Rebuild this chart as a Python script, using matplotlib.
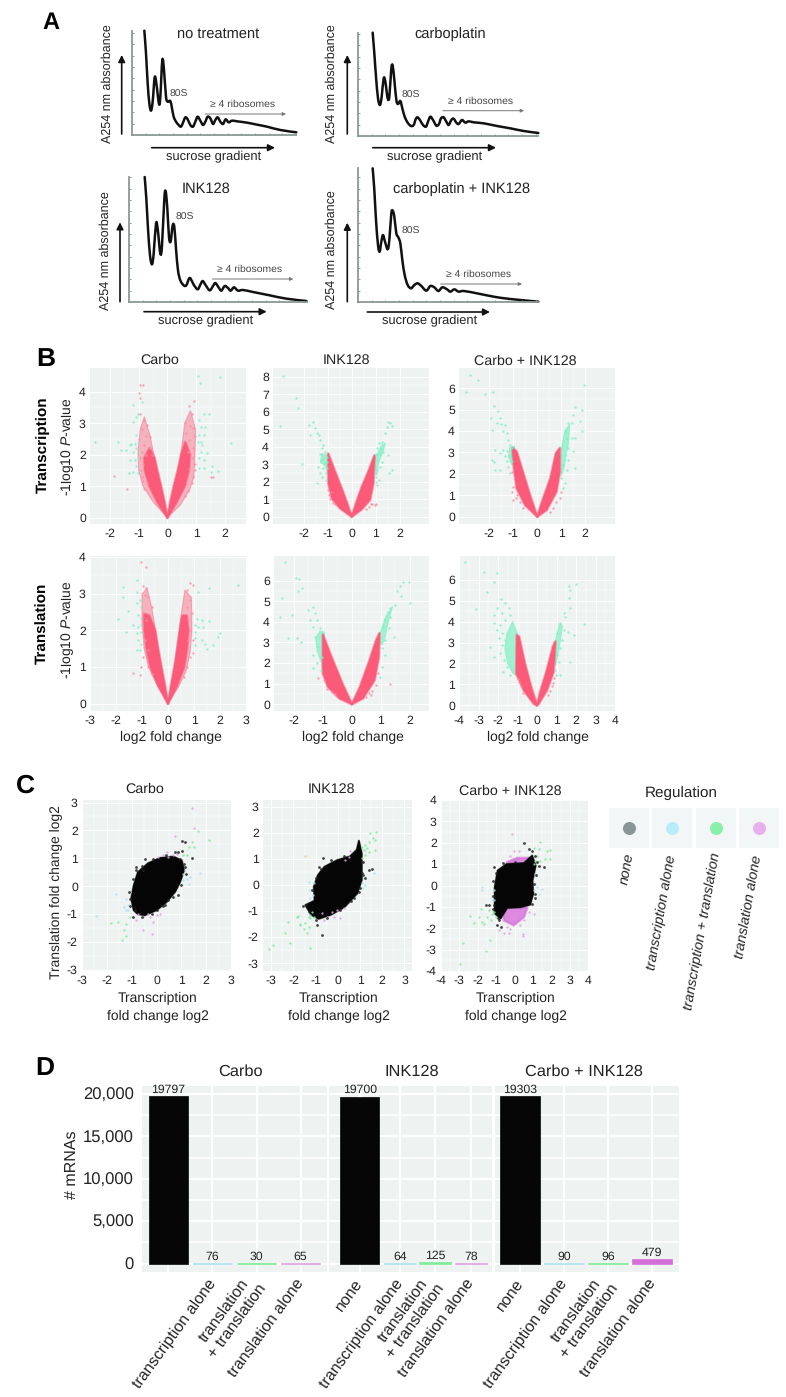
import matplotlib
matplotlib.use("Agg")
import matplotlib.pyplot as plt
from matplotlib.path import Path
from matplotlib.patches import PathPatch
from matplotlib.transforms import ScaledTranslation

plt.rcParams["font.family"] = ["Liberation Sans", "DejaVu Sans"]
plt.rcParams["axes.unicode_minus"] = False
plt.rcParams["text.hinting"] = "none"
plt.rcParams["mathtext.fontset"] = "custom"
plt.rcParams["mathtext.rm"] = "Liberation Sans"
plt.rcParams["mathtext.it"] = "Liberation Sans:italic"

W, H = 786, 1397
PANEL_BG = "#eef3f2"
RED = "#fb5a78"
MINT = "#7ff0c4"
BLUE = "#a8e4f2"
GREEN = "#7eec98"
PURPLE = "#e2a0e6"
TXT = "#222222"

# panel A traces: position along gradient, absorbance (both in trace units)
no_treat_x = [37, 42, 47, 52, 57, 62, 68, 73, 81, 85, 91, 96, 102, 107, 115, 120, 125, 132, 140, 147, 153, 160, 167, 175, 183, 190, 197, 205, 213, 220, 227, 235, 243, 250, 257, 265, 273, 281, 290, 300, 315, 345, 375, 405, 445, 493]
no_treat_y = [313, 245, 155, 95, 73, 100, 173, 155, 93, 115, 225, 195, 115, 100, 102, 80, 55, 40, 30, 25, 37, 53, 47, 30, 25, 40, 55, 43, 30, 40, 55, 50, 33, 45, 53, 40, 33, 47, 38, 43, 41, 37, 31, 25, 15, 8]
carbo_x = [44, 49, 54, 60, 66, 71, 77, 82, 89, 94, 100, 104, 109, 115, 120, 127, 133, 140, 149, 159, 167, 173, 179, 187, 195, 204, 210, 217, 225, 235, 243, 249, 257, 265, 272, 280, 287, 295, 302, 312, 322, 332, 347, 377, 417, 457, 497, 541]
carbo_y = [310, 248, 178, 113, 93, 118, 173, 163, 113, 118, 203, 211, 168, 108, 96, 105, 83, 58, 40, 30, 33, 50, 56, 46, 33, 28, 43, 58, 48, 31, 36, 53, 56, 43, 33, 48, 52, 40, 36, 48, 40, 44, 41, 38, 30, 23, 15, 9]
ink_x = [47, 52, 57, 63, 69, 74, 81, 86, 94, 99, 106, 110, 115, 120, 125, 131, 136, 141, 147, 154, 164, 172, 180, 185, 194, 206, 214, 221, 229, 242, 252, 259, 268, 277, 287, 297, 305, 315, 327, 342, 372, 422, 472, 532]
ink_y = [375, 310, 220, 140, 113, 145, 235, 220, 145, 170, 310, 332, 280, 195, 182, 230, 225, 160, 95, 65, 50, 50, 70, 70, 52, 38, 52, 63, 52, 35, 48, 57, 45, 34, 48, 42, 34, 44, 34, 36, 30, 20, 10, 3]
combo_x = [44, 49, 54, 60, 65, 70, 75, 81, 89, 94, 100, 104, 109, 115, 121, 127, 133, 140, 149, 159, 169, 179, 190, 205, 217, 229, 241, 253, 267, 277, 289, 302, 317, 357, 407, 457, 541]
combo_y = [401, 336, 246, 171, 151, 181, 201, 181, 158, 186, 266, 274, 256, 206, 194, 176, 126, 81, 51, 41, 51, 56, 48, 34, 48, 44, 33, 44, 38, 31, 38, 31, 33, 26, 16, 9, 1]

# panel B volcanoes, transcription row
tx_carbo_core_l = [(0, 0), (-0.35, 0.5), (-0.62, 1.0), (-0.78, 1.5), (-0.8, 1.9), (-0.62, 2.2), (-0.45, 1.9), (-0.35, 1.5), (-0.22, 1.0), (-0.1, 0.5)]
tx_carbo_core_r = [(0, 0), (0.32, 0.5), (0.6, 1.0), (0.74, 1.5), (0.78, 2.0), (0.62, 2.4), (0.48, 2.0), (0.36, 1.5), (0.22, 1.0), (0.1, 0.5)]
tx_carbo_halo_l = [(0, 0), (-0.5, 0.5), (-0.85, 1.0), (-1.0, 1.5), (-1.02, 2.1), (-0.95, 2.8), (-0.8, 3.2), (-0.6, 2.6), (-0.45, 1.9), (-0.3, 1.2), (-0.15, 0.6)]
tx_carbo_halo_r = [(0, 0), (0.45, 0.4), (0.78, 0.9), (0.92, 1.3), (0.96, 2), (0.98, 2.8), (0.8, 3.4), (0.6, 3.0), (0.48, 2.1), (0.36, 1.3), (0.18, 0.6)]
tx_carbo_mint = [(-2.5, 2.4), (-1.72, 2.4), (-1.6, 2.15), (-1.43, 2.15), (-1.3, 2.3), (-1.25, 2.35), (-1.13, 2.35), (-1.02, 2.4), (-1.08, 2.2), (-1.2, 2.1), (-0.96, 2.1), (-1.02, 1.9), (-1.13, 1.83), (-1.1, 1.65), (-0.96, 1.5), (-1.2, 1.46), (-1.33, 1.41), (-1.02, 1.41), (-1.3, 1.83), (-1.08, 2.62), (-1.2, 3.05), (-1.1, 3.2), (-1.2, 3.58), (-1.02, 3.3), (-0.9, 3.66),
                  (1.07, 4.5), (1.13, 4.26), (1.83, 4.45), (2.2, 2.36), (1.27, 3.3), (1.44, 3.28), (1.1, 3.1), (1.15, 2.89), (1.1, 2.62), (1.27, 2.62), (1.07, 2.41), (1.2, 2.3), (1.37, 2.05), (1.15, 2.1), (1.1, 1.9), (1.27, 1.84), (1.1, 1.57), (1.27, 1.57), (1.5, 1.46), (1.56, 1.65), (1.77, 1.49), (1.15, 2.41), (1.32, 2.89)]
tx_carbo_pink = [(-0.85, 4.2), (-0.95, 4.2), (-1.0, 3.95), (-0.95, 3.8), (-0.95, 3.3), (-0.8, 3.1), (-0.7, 2.95), (-0.9, 2.8), (-0.75, 2.6), (-0.6, 2.55), (-1.0, 2.5), (-0.8, 2.3), (-0.6, 2.2), (-0.9, 2.1), (-0.75, 2.0), (-0.55, 2.0), (-0.95, 1.9), (-0.85, 1.7), (-0.92, 1.5), (-0.88, 1.3), (-0.85, 1.15), (-0.7, 1.1), (-1.4, 0.92), (-1.85, 1.32), (-0.8, 0.9),
                  (0.92, 3.7), (0.75, 3.55), (0.85, 3.3), (0.6, 3.0), (0.8, 2.9), (0.9, 2.85), (0.65, 2.7), (0.95, 2.6), (0.75, 2.45), (0.55, 2.4), (0.9, 2.2), (0.7, 2.1), (0.85, 1.9), (0.95, 1.7), (0.75, 1.55), (0.9, 1.3), (0.85, 1.1), (0.7, 0.85), (0.95, 1.5), (0.6, 0.7), (1.5, 1.3), (1.58, 1.28)]

tx_ink_core_l = [(0, 0), (-0.49, 0.48), (-0.83, 1.05), (-0.97, 1.9), (-0.98, 3.6), (-0.7, 2.6), (-0.42, 1.62), (-0.2, 0.8)]
tx_ink_core_r = [(0, 0), (0.4, 0.4), (0.76, 0.95), (0.9, 1.9), (0.95, 3.5), (0.7, 2.6), (0.42, 1.7), (0.2, 0.85)]
tx_ink_dense = [[(-1.0, 3.5), (-1.25, 3.6), (-1.3, 3.1), (-1.1, 2.9), (-1.0, 2.5)], [(1.0, 3.4), (1.25, 4.1), (1.4, 4.2), (1.3, 3.7), (1.12, 3.1), (1.05, 2.4), (1.0, 2.4)]]
tx_ink_mint = [(-2.85, 8.05), (-2.32, 6.8), (-2.22, 6.2), (-3.0, 5.2), (-2.08, 3.0), (-1.62, 5.4), (-1.8, 5.24), (-1.53, 5.05), (-1.74, 4.67), (-1.46, 4.76), (-1.35, 4.67), (-1.32, 4.38), (-1.18, 4.1), (-1.25, 3.9), (-1.11, 3.7), (-1.32, 3.6), (-1.04, 3.43), (-1.25, 3.24), (-1.11, 3.05), (-1.39, 2.86), (-1.18, 2.76), (-1.07, 2.48), (-1.32, 2.48), (-1.25, 2.29), (-1.43, 1.9), (-1.07, 2.1), (-1.05, 2.76), (-1.18, 3.33), (-1.01, 3.14),
               (1.53, 5.4), (1.6, 5.33), (1.67, 5.18), (1.49, 5.14), (1.39, 4.76), (1.25, 4.25), (1.15, 4.19), (1.07, 3.9), (1.21, 3.9), (1.32, 3.7), (1.01, 3.6), (1.18, 3.6), (1.53, 3.52), (1.07, 3.24), (1.25, 3.14), (1.07, 2.67), (1.67, 2.67), (1.18, 2.86), (1.57, 2.48), (1.01, 2.29), (1.15, 2.1), (1.07, 1.81), (1.0, 2.0), (1.07, 3.5)]
tx_ink_pink = [(-0.95, 1.25), (-0.9, 1.0), (-0.8, 0.8), (-0.7, 0.7), (-0.85, 1.4), (-1.0, 1.5), (0.85, 0.7), (0.95, 0.65), (0.6, 0.45), (0.72, 0.55), (1.0, 0.7), (0.8, 0.75)]

tx_combo_core_l = [(0, 0), (-0.51, 0.55), (-0.86, 1.33), (-0.97, 2.27), (-1.03, 3.2), (-0.86, 3.05), (-0.6, 2.1), (-0.3, 1.0)]
tx_combo_core_r = [(0, 0), (0.39, 0.31), (0.8, 1.17), (0.94, 2.1), (0.94, 3.2), (0.78, 2.97), (0.55, 1.8), (0.2, 0.7)]
tx_combo_dense = [[(1.0, 3.1), (1.15, 4.0), (1.35, 4.3), (1.3, 3.4), (1.2, 2.9), (1.12, 2.3), (1.0, 1.9)], [(-0.95, 3.3), (-1.15, 3.2), (-1.2, 2.8), (-1.05, 2.4), (-0.95, 2.7)]]
tx_combo_mint = [(-2.8, 6.6), (-2.46, 6.36), (-2.97, 5.83), (-2.18, 5.73), (-1.83, 5.83), (-1.8, 5.16), (-1.62, 4.92), (-1.93, 4.6), (-1.56, 4.6), (-1.69, 4.38), (-1.49, 4.34), (-1.35, 4.3), (-1.9, 4.06), (-1.42, 3.98), (-1.28, 3.9), (-1.2, 3.6), (-1.14, 3.36), (-1.76, 3.13), (-1.42, 3.13), (-1.28, 3.05), (-1.07, 3.2), (-1.56, 2.97), (-1.35, 2.81), (-1.14, 2.81), (-1.9, 2.66), (-1.28, 2.58), (-1.79, 2.55), (-1.07, 2.58), (-1.76, 2.19), (-1.56, 2.19), (-1.2, 2.34), (-1.14, 2.03),
                 (1.94, 6.14), (1.57, 5.11), (1.85, 4.97), (1.5, 4.77), (1.78, 4.48), (1.43, 4.38), (1.29, 4.38), (1.88, 3.98), (1.15, 3.98), (1.22, 3.67), (1.43, 3.67), (1.57, 3.67), (1.29, 3.2), (1.5, 3.05), (1.15, 2.89), (1.29, 2.66), (1.08, 2.42), (1.22, 2.19), (1.01, 1.8), (1.15, 1.56), (1.08, 1.33), (1.57, 2.27)]
tx_combo_pink = [(-1.0, 0.78), (-0.86, 1.0), (-0.72, 0.7), (-0.58, 0.39), (-1.07, 1.17), (0.94, 0.86), (0.8, 0.7), (0.67, 0.39), (0.53, 0.23), (1.01, 1.17), (-1.07, 2.1), (-1.0, 1.4), (-0.9, 0.85)]

# panel B volcanoes, translation row
tl_carbo_core_l = [(0, 0), (-0.38, 0.5), (-0.67, 1.0), (-0.82, 1.5), (-0.9, 2.0), (-0.92, 2.45), (-0.72, 2.4), (-0.5, 2.0), (-0.38, 1.5), (-0.25, 1.0), (-0.12, 0.5)]
tl_carbo_core_r = [(0, 0), (0.35, 0.5), (0.62, 1.0), (0.73, 1.5), (0.78, 2.0), (0.72, 2.4), (0.55, 2.4), (0.46, 2.0), (0.36, 1.5), (0.25, 1.0), (0.12, 0.5)]
tl_carbo_halo_l = [(0, 0), (-0.42, 0.5), (-0.75, 1.0), (-0.92, 1.5), (-1.0, 2.2), (-1.0, 3.0), (-0.8, 3.15), (-0.62, 2.6), (-0.45, 1.9), (-0.3, 1.1), (-0.12, 0.5)]
tl_carbo_halo_r = [(0, 0), (0.4, 0.45), (0.7, 0.9), (0.85, 1.4), (0.92, 2), (0.9, 2.9), (0.65, 3.1), (0.52, 2.5), (0.4, 1.9), (0.28, 1.2), (0.12, 0.5)]
tl_carbo_mint = [(-1.72, 3.18), (-1.74, 2.9), (-1.21, 3.38), (-1.21, 3.06), (-1.08, 2.83), (-1.21, 2.74), (-1.02, 2.65), (-1.53, 2.54), (-1.14, 2.42), (-1.02, 2.33), (-1.92, 2.3), (-1.34, 2.15), (-1.14, 2.08), (-1.02, 2.15), (-1.6, 1.96), (-1.21, 1.92), (-1.02, 1.96), (-1.14, 1.74), (-1.21, 1.46), (-1.02, 1.64), (-1.08, 1.46),
                 (1.56, 3.15), (2.71, 3.24), (1.17, 3.06), (1.1, 2.3), (1.3, 2.28), (1.56, 2.26), (1.04, 2.15), (1.17, 2.1), (1.36, 2.08), (1.04, 1.96), (2.0, 1.92), (1.94, 1.83), (1.04, 1.78), (1.3, 1.74), (1.04, 1.6), (1.5, 1.5), (1.72, 1.6), (1.44, 1.64)]
tl_carbo_pink = [(-1.05, 3.86), (-0.85, 3.74), (-0.95, 3.2), (-0.83, 3.15), (-1.34, 0.84), (-1.08, 0.78), (0.83, 3.3), (0.98, 3.24), (0.72, 3.1), (-0.9, 2.97), (-0.77, 2.92), (-0.63, 2.65), (-0.95, 2.47), (-0.83, 2.28), (-0.9, 1.74), (-0.95, 1.28), (-1.02, 1.0), (-0.77, 1.46), (-0.77, 1.0), (-0.63, 0.82), (0.85, 2.83), (0.72, 2.65), (0.92, 2.47), (0.98, 1.74), (0.85, 1.28), (0.72, 1.0), (0.6, 0.73), (0.78, 1.74), (0.98, 1.37), (0.85, 2.0), (0.78, 2.28)]

tl_ink_core_l = [(0, 0), (-0.43, 0.28), (-0.83, 0.85), (-1.0, 1.5), (-1.0, 3.37), (-0.71, 2.31), (-0.33, 1.0)]
tl_ink_core_r = [(0, 0), (0.38, 0.28), (0.78, 1.17), (0.93, 2.3), (0.95, 3.45), (0.84, 3.12), (0.57, 1.98), (0.28, 0.85)]
tl_ink_dense = [[(-0.95, 3.5), (-1.1, 3.55), (-1.25, 3.2), (-1.2, 2.6), (-1.05, 2.0), (-1.0, 1.6), (-0.95, 2.2)], [(0.95, 3.35), (1.15, 4.2), (1.4, 4.75), (1.25, 4.0), (1.15, 3.3), (1.05, 2.9), (1.0, 2.9)]]
tl_ink_mint = [(-2.31, 6.89), (-2.42, 5.15), (-1.94, 6.13), (-1.82, 6.08), (-1.87, 5.48), (-1.73, 5.64), (-2.48, 4.26), (-2.08, 4.34), (-2.2, 3.2), (-1.91, 3.2), (-1.77, 3.04), (-1.51, 4.58), (-1.36, 4.74), (-1.28, 4.42), (-1.45, 4.1), (-1.22, 4.1), (-1.33, 3.77), (-1.1, 3.69), (-1.28, 3.28), (-1.17, 2.8), (-1.34, 2.39), (-1.22, 1.99), (-1.34, 1.74), (-1.08, 1.66), (-1.05, 2.3),
               (1.76, 5.93), (1.97, 5.93), (1.67, 5.72), (1.55, 5.48), (1.7, 5.24), (2.01, 4.91), (1.47, 4.83), (1.3, 4.67), (1.24, 4.5), (1.13, 4.1), (1.3, 4.26), (1.07, 3.77), (1.28, 3.69), (1.44, 3.28), (1.13, 3.12), (1.05, 2.72), (1.13, 2.39), (1.05, 1.82), (0.98, 1.33)]
tl_ink_pink = [(-1.16, 1.25), (1.3, 0.98), (0.67, 0.47), (-0.95, 1.2), (-0.85, 0.75), (-0.7, 0.6), (-0.6, 0.5), (0.82, 0.95), (0.9, 1.5), (0.7, 0.65), (0.6, 0.55), (0.5, 0.35)]

tl_combo_core_l = [(0, 0), (-0.17, 0.08), (-0.68, 0.72), (-1.06, 1.52), (-1.03, 3.36), (-0.92, 3.28), (-0.62, 2.0), (-0.3, 0.88)]
tl_combo_core_r = [(0, 0), (0.09, 0.08), (0.51, 0.72), (0.85, 1.6), (0.94, 3.04), (0.82, 2.8), (0.48, 1.6), (0.14, 0.56)]
tl_combo_dense = [[(-1.0, 3.4), (-1.25, 4.0), (-1.55, 3.4), (-1.65, 2.7), (-1.5, 2.0), (-1.25, 1.55), (-1.0, 1.4)], [(0.95, 3.1), (1.15, 3.9), (1.3, 3.8), (1.2, 3.1), (1.05, 2.3), (0.95, 1.9)]]
tl_combo_mint = [(-3.71, 6.83), (-2.7, 6.37), (-2.05, 6.32), (-2.19, 5.87), (-2.56, 5.41), (-3.11, 4.59), (-1.85, 5.07), (-1.62, 4.91), (-2.05, 4.64), (-1.45, 4.64), (-1.8, 4.4), (-2.2, 4.32), (-1.37, 4.32), (-1.62, 4.08), (-2.22, 3.92), (-1.88, 3.84), (-2.05, 3.6), (-1.8, 3.44), (-1.97, 3.2), (-2.39, 2.8), (-1.8, 2.88), (-2.22, 2.32), (-1.88, 2.48), (-1.71, 2.16), (-1.74, 1.6), (-1.54, 1.84), (-1.37, 1.44), (-1.62, 3.12),
                 (1.62, 5.68), (2.0, 5.8), (1.68, 5.52), (1.62, 5.12), (1.71, 4.64), (1.37, 4.4), (1.45, 4.24), (1.2, 3.92), (2.39, 3.89), (1.03, 3.44), (1.37, 3.6), (1.88, 3.36), (1.59, 3.52), (1.28, 3.12), (1.2, 2.72), (1.03, 2.4), (1.71, 2.08), (1.11, 2.08), (0.94, 1.68), (1.2, 1.44), (0.99, 1.44)]
tl_combo_pink = [(-0.9, 1.1), (-0.8, 0.9), (-0.7, 0.6), (-0.95, 1.25), (0.8, 1.05), (0.65, 0.7), (0.75, 0.9), (0.85, 1.3), (0.55, 0.5)]

# panel C scatter: outline of the solid black cloud and the loose points
sc_carbo_blob = [(-0.92, -0.87), (-1.02, -0.45), (-0.92, 0.02), (-0.75, 0.5), (-0.34, 0.82), (0.14, 1.01), (0.68, 1.06), (1.02, 0.92), (1.11, 0.56), (0.95, 0.14), (0.75, -0.21), (0.41, -0.57), (0, -0.87), (-0.47, -1.05), (-0.75, -1.01)]
sc_carbo_black = [(-0.81, 0.7), (-0.47, 0.98), (-0.84, 0.56), (1.02, 1.27), (0.88, 1.21), (1.02, 1.6), (1.15, 1.57), (1.42, 1.01), (1.15, 0.68), (0.88, -0.33), (-0.95, -1.11), (0.34, -0.69), (0.95, 0.98), (0.75, 1.21), (0.47, -0.51), (0, -0.87), (-0.54, 0.56), (-1.08, -0.45), (-0.88, -0.87),
                  (-0.95, 0.25), (-0.6, 0.72), (-0.15, 0.98), (0.4, 1.12), (1.1, 0.8), (1.18, 0.45), (1.0, 0.05), (0.65, -0.4), (0.25, -0.72), (-0.2, -1.0), (-0.6, -1.12), (-1.05, -0.7), (-1.1, -0.2)]
sc_carbo_blue = [(-2.44, -1.07), (-1.63, -0.27), (-1.22, -0.45), (-1.29, -0.75), (-1.15, -0.87), (-1.08, -0.21), (-1.15, -0.69), (-1.22, -0.87), (1.76, 0.46), (1.22, 0.26), (1.08, 0.44), (1.29, 0.08), (1.02, 0.08), (1.15, 0.56), (1.36, 0.32), (1.06, 0.2)]
sc_carbo_green = [(-1.83, -1.32), (-1.56, -1.29), (-1.22, -1.35), (-1.08, -1.11), (-1.29, -1.58), (-1.22, -1.79), (-1.38, -1.94), (2.13, 1.67), (1.69, 1.99), (1.42, 1.57), (1.29, 1.39), (1.49, 1.42), (1.08, 1.1), (1.22, 1.1)]
sc_carbo_purple = [(0.75, 1.81), (1.49, 2.07), (1.42, 2.8), (0.41, 1.21), (0.27, 1.1), (0.47, 1.06), (0.68, 1.1), (0.81, 1.15), (0.07, 1.04), (-0.81, -1.23), (-0.54, -1.11), (-0.27, -1.11), (0, -1.05), (-0.54, -1.58), (-0.2, -1.73), (-0.75, -0.99), (-0.34, -0.99), (0.14, -0.99), (-0.14, -1.29)]

sc_ink_blob = [(-1.46, -0.77), (-1.05, -0.6), (-1.08, -0.06), (-0.9, 0.38), (-0.6, 0.7), (-0.04, 0.95), (0.55, 1.1), (0.85, 1.35), (0.95, 1.7), (1.08, 1.2), (1.08, 0.7), (1.08, 0.19), (0.88, -0.32), (0.3, -0.85), (-0.3, -1.14), (-0.86, -1.3), (-1.2, -1.15)]
sc_ink_black = [(1.39, 0.57), (1.54, 0.6), (1.09, 0.45), (1.24, 0.26), (0.94, -0.26), (0.71, -0.51), (-0.67, 1.02), (-0.86, 0.7), (-0.94, -1.53), (-0.71, -1.92), (-1.42, -0.77),
                (-1.15, -0.2), (-1.0, 0.25), (-0.75, 0.62), (-0.3, 0.95), (0.3, 1.1), (1.15, 0.9), (1.15, 0.4), (1.0, -0.1), (0.6, -0.6), (0.1, -0.97), (-0.5, -1.25), (-1.0, -1.35), (-1.3, -1.0), (-1.55, -0.8)]
sc_ink_blue = [(-1.31, 0.13), (-1.24, -0.19), (-1.12, -0.38), (-1.09, 0.06), (1.16, 0.26), (1.09, -0.13), (1.24, 0), (1.61, 0.45), (1.09, 0.06), (-1.24, -0.51)]
sc_ink_green = [(-1.24, -1.15), (-1.16, -1.02), (-1.09, -1.21), (-1.24, -1.28), (-1.31, -1.21), (-1.84, -1.21), (-1.46, -1.47), (-1.69, -1.53), (-1.31, -1.6), (-1.54, -1.7), (-1.39, -1.85), (-1.24, -2.43), (-2.26, -1.41), (-2.36, -1.84), (-2.14, -2.21), (-3.12, -2.46), (-2.94, -2.32), (-1.81, -1.18), (-1.69, -1.5),
                (1.46, 2.0), (1.73, 2.02), (1.58, 1.79), (1.69, 1.72), (1.39, 1.66), (1.24, 1.53), (1.09, 1.47), (1.69, 1.34), (1.39, 1.28), (1.24, 1.15), (1.09, 1.02), (1.16, 1.34), (1.31, 1.4)]
sc_ink_purple = [(0.56, 1.3), (0.49, 1.09), (0.34, 0.96), (-0.71, -1.09), (-0.49, -1.21), (-0.26, -1.02), (-0.04, -0.96), (0.11, -1.28), (-0.64, -1.34), (-0.19, -1.21), (0.26, -0.89)]
sc_ink_orange = [(-1.46, 1.12)]

sc_combo_blob = [(-1.08, -0.85), (-1.08, -0.08), (-0.92, 0.7), (-0.45, 1.0), (0.51, 1.05), (0.96, 1.4), (1.15, 0.93), (0.98, 0.23), (1.02, -0.39), (0.85, -0.9), (0.32, -1.02), (-0.4, -1.05), (-0.76, -1.55), (-1.08, -1.3)]
sc_combo_down = [(-0.58, -1.01), (0.69, -1.04), (0.51, -1.48), (-0.04, -1.86), (-0.58, -1.63)]
sc_combo_up = [(-0.4, 0.93), (0.51, 1.0), (0.87, 1.29), (0.14, 1.29), (-0.4, 1.09)]
sc_combo_black = [(-1.57, -0.93), (-1.39, -0.9), (-1.12, -0.93), (-0.85, -1.63), (-0.94, -1.86), (-0.76, -1.94), (0.51, 1.97), (0.78, 1.71), (0.96, 1.63), (1.59, 0.85), (1.32, 0.93), (1.14, -0.39), (-1.12, 0.85),
                  (-1.18, -0.5), (-1.15, 0.2), (-1.0, 0.6), (-0.65, 1.05), (0, 1.1), (1.2, 1.1), (1.15, 0.5), (1.05, 0.05), (1.1, -0.6), (0.95, -0.85), (-1.15, -1.1), (-0.9, -1.5), (1.1, 1.4)]
sc_combo_green = [(-2.78, -2.67), (-2.98, -3.65), (-2.44, -1.44), (-2.2, -1.75), (-1.93, -1.48), (-1.75, -1.71), (-1.84, -1.09), (-1.48, -1.48), (-1.3, -1.63), (-1.21, -1.32), (-1.34, -2.56), (-1.57, -3.07), (-1.03, -1.48), (-1.12, -1.24), (-1.66, -1.79), (-1.39, -1.16),
                  (1.41, 2.02), (1.05, 1.75), (1.32, 1.71), (1.95, 1.66), (1.77, 1.63), (1.68, 1.24), (1.91, 1.24), (1.23, 1.4), (1.41, 1.16), (1.14, 1.16), (1.05, 1.0)]
sc_combo_blue = [(-1.75, -0.08), (-1.79, -0.2), (-1.21, -0.47), (-1.12, -0.7), (-1.25, -0.62), (-1.12, -0.23), (1.14, 0.08), (1.23, -0.08), (1.05, -0.23), (1.5, -0.16), (1.14, 0.54), (1.32, -0.39)]
sc_combo_purple = [(-0.13, 2.41), (-0.04, 1.63), (0.23, 1.63), (-0.22, 1.4), (0.45, -2.25), (0.45, -2.36), (-0.58, -2.22), (-0.31, -2.22), (-0.22, -2.02), (-0.85, -2.1), (0.32, -1.86), (1.05, -1.32), (0.78, -1.24), (-0.4, -1.94), (0.51, -1.63)]

# panel D
reg_labels = ["none", "transcription alone", "translation\n+ translation", "translation alone"]
carbo_counts = [19797, 76, 30, 65]
ink_counts = [19700, 64, 125, 78]
combo_counts = [19303, 90, 96, 479]
combo_bar_heights = [19800, 90, 96, 479]
bar_colors = ["#060606", BLUE, GREEN, PURPLE]
legend_titles = ["none", "transcription alone", "transcription + translation", "translation alone"]
legend_colors = ["#8a9695", "#b8ecf8", "#88f0a8", "#e8b0ec"]


def ax_px(fig, x0, y0, x1, y1):
    return fig.add_axes([x0 / W, 1 - y1 / H, (x1 - x0) / W, (y1 - y0) / H])


def label(fig, x, y, s, size=10, **kw):
    kw.setdefault("color", TXT)
    return fig.text(x / W, 1 - y / H, s, fontsize=size, ha=kw.pop("ha", "center"), va=kw.pop("va", "center"), **kw)


def arrow(fig, x0, y0, x1, y1, color="#111111", lw=1.2, head=10):
    fig.add_artist(matplotlib.patches.FancyArrowPatch(
        (x0 / W, 1 - y0 / H), (x1 / W, 1 - y1 / H), transform=fig.transFigure,
        arrowstyle="-|>", mutation_scale=head, lw=lw, color=color, shrinkA=0, shrinkB=0))


def smooth_path(xs, ys):
    # cubic segments that pass through every read point, so peaks keep their height
    verts = [(xs[0], ys[0])]
    codes = [Path.MOVETO]
    n = len(xs)
    for i in range(n - 1):
        a, b = max(i - 1, 0), min(i + 2, n - 1)
        verts.append((xs[i] + (xs[i + 1] - xs[a]) / 6, ys[i] + (ys[i + 1] - ys[a]) / 6))
        verts.append((xs[i + 1] - (xs[b] - xs[i]) / 6, ys[i + 1] - (ys[b] - ys[i]) / 6))
        verts.append((xs[i + 1], ys[i + 1]))
        codes += [Path.CURVE4, Path.CURVE4, Path.CURVE4]
    return Path(verts, codes)


def trace(fig, box, xs, ys, title, title_xy, up_x, up_y, grad, grad_txt, rib, rib_arrow, s80, yl):
    ax = ax_px(fig, *box)
    ax.set_xlim(0, (box[2] - box[0]) * 3)
    ax.set_ylim(0, (box[3] - box[1]) * 3)
    ax.patch.set_alpha(0)
    ax.add_patch(PathPatch(smooth_path(xs, ys), fill=False, edgecolor="#111111", lw=1.8, joinstyle="round", capstyle="round", clip_on=False))
    for side in ["top", "right"]:
        ax.spines[side].set_visible(False)
    for side in ["left", "bottom"]:
        ax.spines[side].set_color("#8a9a96")
        ax.spines[side].set_linewidth(1.3)
    ax.set_xticks(range(0, (box[2] - box[0]) * 3 + 1, 41))
    ax.set_yticks(range(0, (box[3] - box[1]) * 3 + 1, 34))
    ax.tick_params(length=1.5, width=0.7, color="#8a9a96", direction="in", labelleft=False, labelbottom=False)
    label(fig, *title_xy, title, size=10.5)
    arrow(fig, up_x, up_y[0], up_x, up_y[1])
    arrow(fig, *grad)
    label(fig, *grad_txt, "sucrose gradient", size=9.3)
    label(fig, *rib, "≥ 4 ribosomes", size=7.5, color="#444444")
    arrow(fig, *rib_arrow, color="#777777", lw=0.7, head=5)
    label(fig, *s80, "80S", size=7.5, color="#444444")
    label(fig, *yl, "A254 nm absorbance", size=9, rotation=90)


def base_ax(fig, box, xlim, ylim, xticks, yticks, step=0.5, size=8.8):
    ax = ax_px(fig, *box)
    ax.set_facecolor(PANEL_BG)
    ax.set_xlim(*xlim)
    ax.set_ylim(*ylim)
    ax.set_xticks(xticks)
    ax.set_xticklabels([str(t) for t in xticks])
    ax.set_yticks(yticks)
    ax.set_yticklabels([str(t) for t in yticks])
    ax.set_xticks([t + step for t in xticks[:-1]], minor=True)
    ax.set_yticks([t + step for t in yticks[:-1]], minor=True)
    ax.grid(True, which="major", color="white", lw=0.7)
    ax.grid(True, which="minor", color="white", lw=0.35)
    ax.set_axisbelow(True)
    ax.tick_params(which="both", length=0, labelsize=size, pad=3, labelcolor=TXT)
    for sp in ax.spines.values():
        sp.set_visible(False)
    return ax


def dots(ax, pts, color, s=2.8, alpha=0.85):
    ax.scatter([p[0] for p in pts], [p[1] for p in pts], s=s, color=color, alpha=alpha, linewidths=0, zorder=4)


def poly(ax, pts, color, alpha=1.0, z=3, soft=0):
    xs = [p[0] for p in pts]
    ys = [p[1] for p in pts]
    if soft:
        ax.fill(xs, ys, facecolor="none", edgecolor=color, alpha=0.5, lw=soft, zorder=z - 0.1, joinstyle="round")
    ax.fill(xs, ys, color=color, alpha=alpha, lw=0.8, zorder=z, joinstyle="round")


def volcano(ax, core_l, core_r, mint, pink, dense=(), halo=()):
    for h in halo:
        poly(ax, h, RED, alpha=0.42, z=2)
    for d in dense:
        poly(ax, d, MINT, alpha=0.7, z=2)
    poly(ax, core_l, RED, soft=2.2)
    poly(ax, core_r, RED, soft=2.2)
    dots(ax, mint, MINT)
    dots(ax, pink, "#fa8ea2")


def bars(fig, box, xlim, pos, widths, heights, counts, colors, tick_labels):
    ax = ax_px(fig, *box)
    ax.set_facecolor(PANEL_BG)
    ax.set_xlim(*xlim)
    ax.set_ylim(-1000, 20950)
    ax.bar(pos, heights, width=widths, color=colors, edgecolor=colors, linewidth=0.5, zorder=3)
    for p, h, c in zip(pos, heights, counts):
        ax.text(p, h + 90, str(c), ha="center", va="bottom", fontsize=8.8, color=TXT, zorder=4)
    ax.set_xticks(pos)
    ax.set_xticklabels(tick_labels, rotation=54, ha="right", va="center", rotation_mode="anchor",
                       fontsize=11.5, color=TXT, linespacing=1.1, multialignment="center")
    shift = ScaledTranslation(4.5 / 100, 0, fig.dpi_scale_trans)
    for lbl in ax.get_xticklabels():
        lbl.set_transform(lbl.get_transform() + shift)
    ax.set_yticks([0, 5000, 10000, 15000, 20000])
    ax.set_yticks([2500, 7500, 12500, 17500], minor=True)
    ax.grid(True, which="major", color="white", lw=1.6)
    ax.grid(True, axis="y", which="minor", color="white", lw=1.1)
    ax.set_axisbelow(True)
    ax.tick_params(which="both", length=0, pad=6)
    for sp in ax.spines.values():
        sp.set_visible(False)
    return ax


fig = plt.figure(figsize=(W / 100, H / 100), dpi=100)

# ---- A
trace(fig, (132, 31, 296, 135), no_treat_x, no_treat_y, "no treatment", (218, 34), 121.7, (134, 55),
      (151.7, 147.7, 275, 147.7), (213.7, 156.7), (242.7, 104.3), (205, 114, 286, 114), (178.3, 94), (107.3, 83.3))
trace(fig, (358, 33, 538, 136), carbo_x, carbo_y, "carboplatin", (450, 34), 347.3, (134, 55),
      (372.7, 147.7, 496, 147.7), (435, 156.7), (480.7, 101.7), (442.7, 110.7, 524, 110.7), (411, 95), (331.7, 83.3))
trace(fig, (129, 177, 307, 302), ink_x, ink_y, "INK128", (206, 189), 120, (301.7, 222.3),
      (144, 311.7, 266.7, 311.7), (206, 320.7), (250, 269.3), (212.3, 279, 293.3, 279), (185, 217.3), (106, 251))
trace(fig, (358, 168, 538, 302), combo_x, combo_y, "carboplatin + INK128", (461.7, 189), 347.3, (301.7, 222.7),
      (367.3, 312, 490, 312), (430, 321), (478.3, 274.3), (440.7, 284, 522, 284), (411, 231.7), (331.7, 250))

# ---- B
ax = base_ax(fig, (90, 368, 246, 524), (-2.69, 2.73), (-0.2, 4.75), [-2, -1, 0, 1, 2], [0, 1, 2, 3, 4])
volcano(ax, tx_carbo_core_l, tx_carbo_core_r, tx_carbo_mint, tx_carbo_pink, halo=[tx_carbo_halo_l, tx_carbo_halo_r])
ax = base_ax(fig, (273, 368, 429, 524), (-3.28, 3.22), (-0.42, 8.5), [-2, -1, 0, 1, 2], [0, 1, 2, 3, 4, 5, 6, 7, 8])
volcano(ax, tx_ink_core_l, tx_ink_core_r, tx_ink_mint, tx_ink_pink, dense=tx_ink_dense)
ax = base_ax(fig, (459, 368, 615, 524), (-3.26, 3.24), (-0.34, 6.94), [-2, -1, 0, 1, 2], [0, 1, 2, 3, 4, 5, 6])
volcano(ax, tx_combo_core_l, tx_combo_core_r, tx_combo_mint, tx_combo_pink, dense=tx_combo_dense)

ax = base_ax(fig, (90, 556, 246, 711), (-3, 3), (-0.2, 4.03), [-3, -2, -1, 0, 1, 2, 3], [0, 1, 2, 3, 4])
volcano(ax, tl_carbo_core_l, tl_carbo_core_r, tl_carbo_mint, tl_carbo_pink, halo=[tl_carbo_halo_l, tl_carbo_halo_r])
ax = base_ax(fig, (274, 556, 429, 711), (-2.69, 2.66), (-0.33, 7.2), [-2, -1, 0, 1, 2], [0, 1, 2, 3, 4, 5, 6])
volcano(ax, tl_ink_core_l, tl_ink_core_r, tl_ink_mint, tl_ink_pink, dense=tl_ink_dense)
ax = base_ax(fig, (459, 556, 615, 711), (-4, 4), (-0.27, 7.13), [-4, -3, -2, -1, 0, 1, 2, 3, 4], [0, 1, 2, 3, 4, 5, 6])
volcano(ax, tl_combo_core_l, tl_combo_core_r, tl_combo_mint, tl_combo_pink, dense=tl_combo_dense)

label(fig, 159.7, 360, "Carbo", size=10.3)
label(fig, 346.7, 360, "INK128", size=10.3)
label(fig, 525.7, 361.7, "Carbo + INK128", size=10.3)
label(fig, 43.3, 445, "Transcription", size=11, rotation=90, fontweight="bold", color="black")
label(fig, 43.3, 623.3, "Translation", size=11, rotation=90, fontweight="bold", color="black")
label(fig, 68.3, 446.7, "-1log10 $\\mathit{P}$-value", size=10, rotation=90)
label(fig, 68.3, 629.3, "-1log10 $\\mathit{P}$-value", size=10, rotation=90)
for cx in [171, 352.7, 537.7]:
    label(fig, cx, 737.7, "log2 fold change", size=10)

# ---- C
ax = base_ax(fig, (82, 800, 231, 971), (-3, 3), (-3.05, 3.09), [-3, -2, -1, 0, 1, 2, 3], [-3, -2, -1, 0, 1, 2, 3])
poly(ax, sc_carbo_blob, "#050505", soft=1.6)
dots(ax, sc_carbo_blue, BLUE)
dots(ax, sc_carbo_green, GREEN)
dots(ax, sc_carbo_purple, PURPLE)
dots(ax, sc_carbo_black, "#222222", s=4)

ax = base_ax(fig, (263, 800, 412, 971), (-3.37, 3.34), (-3.3, 3.26), [-3, -2, -1, 0, 1, 2, 3], [-3, -2, -1, 0, 1, 2, 3])
poly(ax, sc_ink_blob, "#050505", soft=1.6)
dots(ax, sc_ink_blue, BLUE)
dots(ax, sc_ink_green, GREEN)
dots(ax, sc_ink_purple, PURPLE)
dots(ax, sc_ink_orange, "#e8c89a")
dots(ax, sc_ink_black, "#222222", s=4)

ax = base_ax(fig, (441, 800, 589, 971), (-4, 4.05), (-4, 4), [-4, -3, -2, -1, 0, 1, 2, 3, 4], [-4, -3, -2, -1, 0, 1, 2, 3, 4])
poly(ax, sc_combo_down, "#d977dc", alpha=0.85, z=2, soft=2)
poly(ax, sc_combo_up, "#d977dc", alpha=0.85, z=2, soft=2)
poly(ax, sc_combo_blob, "#050505", soft=1.6)
dots(ax, sc_combo_blue, BLUE)
dots(ax, sc_combo_green, GREEN)
dots(ax, sc_combo_purple, PURPLE)
dots(ax, sc_combo_black, "#222222", s=4)

label(fig, 144.3, 789.3, "Carbo", size=10.3)
label(fig, 331, 789.3, "INK128", size=10.3)
label(fig, 510, 791, "Carbo + INK128", size=10.3)
label(fig, 56, 891.7, "Translation fold change log2", size=10, rotation=90)
for cx in [157.7, 339, 516]:
    label(fig, cx, 998.3, "Transcription", size=10)
    label(fig, cx, 1016, "fold change log2", size=10)

# legend
label(fig, 681.7, 792.7, "Regulation", size=11)
leg_ax = ax_px(fig, 609, 808, 779, 848)
leg_ax.set_xlim(609, 779)
leg_ax.set_ylim(848, 808)
leg_ax.axis("off")
leg_left = [609, 652.3, 695.7, 739]
leg_text = [(629.3, 853), (671.7, 855), (716.7, 853), (757.3, 855)]
for left, col, name, (tx, ty) in zip(leg_left, legend_colors, legend_titles, leg_text):
    leg_ax.add_patch(plt.Rectangle((left, 808), 40, 40, color="#f3f6f6", lw=0))
    leg_ax.scatter([left + 20], [828.3], s=88, color=col, linewidths=0)
    label(fig, tx, ty, name, size=10.3, rotation=80, ha="right", va="center", rotation_mode="anchor", style="italic")

# ---- D
ax = bars(fig, (142, 1086, 327, 1272), (-0.6, 3.6), [0, 1, 2, 3], 0.9, carbo_counts, carbo_counts, bar_colors,
          [""] + reg_labels[1:])
ax.set_yticklabels(["0", "5,000", "10,000", "15,000", "20,000"], fontsize=12, color=TXT)
ax = bars(fig, (329, 1086, 492, 1272), (-0.87, 3.73), [0, 1.13, 2.12, 3.13], [1.11, 0.92, 0.9, 0.9], ink_counts, ink_counts, bar_colors, reg_labels)
ax.set_yticklabels([])
combo_colors = ["#060606", BLUE, GREEN, "#d46fd8"]
ax = bars(fig, (495, 1086, 679, 1272), (-0.57, 3.61), [0, 1, 2, 3], 0.9, combo_bar_heights, combo_counts, combo_colors, reg_labels)
ax.set_yticklabels([])

label(fig, 240.7, 1071.7, "Carbo", size=11.8)
label(fig, 411.7, 1071.7, "INK128", size=11.8)
label(fig, 584.3, 1071.7, "Carbo + INK128", size=11.8)
label(fig, 71.7, 1165, "# mRNAs", size=11.5, rotation=90)

# panel letters
label(fig, 50.7, 22.3, "A", size=17, fontweight="bold", color="black")
label(fig, 46, 359, "B", size=19, fontweight="bold", color="black")
label(fig, 25, 786, "C", size=19, fontweight="bold", color="black")
label(fig, 45, 1068, "D", size=19, fontweight="bold", color="black")

fig.savefig("out.png", dpi=100)
